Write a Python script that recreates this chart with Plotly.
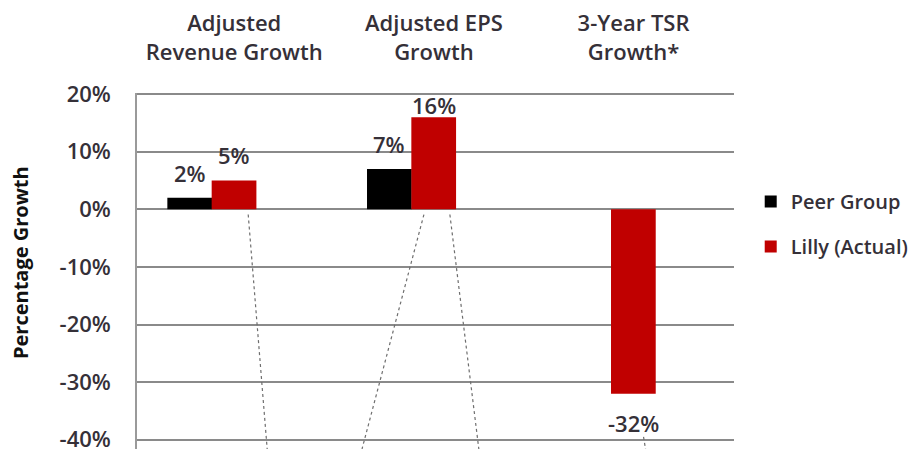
import plotly.graph_objects as go

categories = ["Adjusted<br>Revenue Growth", "Adjusted EPS<br>Growth", "3-Year TSR<br>Growth*"]
peer_group = [2, 7, None]
lilly_actual = [5, 16, -32]
y_ticks = [-40, -30, -20, -10, 0, 10, 20]
y_tick_labels = [f"{v}%" for v in y_ticks]

FONT = "Open Sans"
TXT = "#353038"
GRID = "#8a8a8a"
FS = 22
WT = 600
Y_MIN, Y_MAX = -41.6, 20.2

fig = go.Figure()
PEER_OFF, LILLY_OFF, W = -0.335, -0.113, 0.224
fig.add_trace(go.Bar(x=categories, y=peer_group, name="Peer Group",
                     marker=dict(color="#000000", line=dict(width=0)),
                     offset=PEER_OFF, width=W, legendgroup="a"))
fig.add_trace(go.Bar(x=categories, y=lilly_actual, name="Lilly (Actual)",
                     marker=dict(color="#C00000", line=dict(width=0)),
                     offset=LILLY_OFF, width=W, legendgroup="b"))

# data labels
ann = []
for vals, off in ((peer_group, PEER_OFF), (lilly_actual, LILLY_OFF)):
    for i, v in enumerate(vals):
        if v is None:
            continue
        if v >= 0:
            ly = min(v + 4.4, 18.1)
        else:
            ly = v - 5.0
        ann.append(dict(x=i + off + W / 2, y=ly, xref="x", yref="y",
                        text=f"{v}%", showarrow=False,
                        font=dict(family=FONT, size=FS, color=TXT, weight=WT),
                        xanchor="center", yanchor="middle"))

# y-axis title
ann.append(dict(x=-0.195, y=0.524, xref="paper", yref="paper",
                text="<b>Percentage Growth</b>", textangle=-90, showarrow=False,
                xanchor="center", yanchor="middle",
                font=dict(family=FONT, size=20, color="#111111")))

# leader-line artifacts
leader = [(0.07, -0.9, 0.165, Y_MIN), (0.95, -0.9, 0.64, Y_MIN),
          (1.08, -0.9, 1.225, Y_MIN), (2.05, -39.5, 2.06, Y_MIN)]
shapes = [dict(type="line", xref="x", yref="y", x0=a, y0=b, x1=c, y1=d,
               line=dict(color="#6e6e6e", width=1.2, dash="dot"))
          for a, b, c, d in leader]

fig.update_layout(
    width=915, height=444,
    margin=dict(l=129, r=189, t=85, b=3),
    paper_bgcolor="white", plot_bgcolor="white",
    barmode="overlay",
    font=dict(family=FONT, size=FS, color=TXT, weight=WT),
    showlegend=True,
    legend=dict(x=1.028, xanchor="left", y=0.75, yanchor="top",
                font=dict(family=FONT, size=20, color=TXT, weight=WT),
                traceorder="grouped", tracegroupgap=16,
                bgcolor="rgba(0,0,0,0)"),
    annotations=ann,
    shapes=shapes,
    xaxis=dict(side="top", range=[-0.487, 2.503], showgrid=False,
               showline=False, zeroline=False, ticks="",
               automargin=False, ticklabelstandoff=28,
               tickfont=dict(family=FONT, size=FS, color=TXT, weight=WT)),
    yaxis=dict(range=[Y_MIN, Y_MAX], tickvals=y_ticks, ticktext=y_tick_labels,
               showgrid=True, gridcolor=GRID, gridwidth=1.6,
               zeroline=True, zerolinecolor=GRID, zerolinewidth=1.6,
               showline=True, linecolor="#9a9a9a", linewidth=1.6,
               ticks="", ticklabelstandoff=20, automargin=False,
               ticklabeloverflow="allow",
               tickfont=dict(family=FONT, size=FS, color=TXT, weight=WT)),
)

fig.write_html("out.html")
